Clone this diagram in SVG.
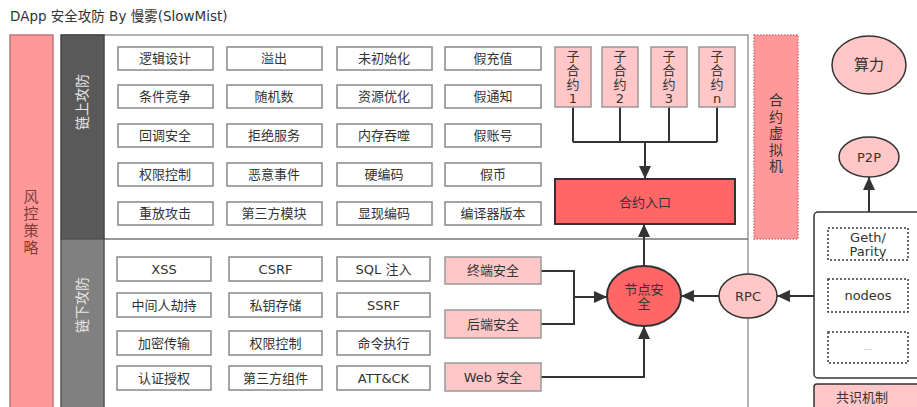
<svg xmlns="http://www.w3.org/2000/svg" width="917" height="407" viewBox="0 0 917 407">
<defs>
<marker id="ah" markerUnits="userSpaceOnUse" markerWidth="14" markerHeight="12" refX="13" refY="6" orient="auto">
<path d="M0,0 L13,6 L0,12 Z" fill="#333"/>
</marker>
<style>
text{font-family:"DejaVu Sans","Noto Sans CJK SC",sans-serif;font-size:13px;fill:#333;text-anchor:middle;dominant-baseline:central}
.b{fill:#fff;stroke:#888;stroke-width:1.5}
.p{fill:#ffc7c7;stroke:#999;stroke-width:1.5}
.e{fill:#ffc7c7;stroke:#333;stroke-width:1.5}
.d{fill:none;stroke:#333;stroke-width:1.5;stroke-dasharray:2 2}
.big{font-size:15px}
.v{font-size:14px}
</style>
</defs>
<rect width="917" height="407" fill="#fff"/>
<text x="10" y="16" style="text-anchor:start;font-size:13.5px">DApp 安全攻防 By 慢雾(SlowMist)</text>

<g id="risk">
<rect x="10" y="35" width="43" height="380" fill="#ff9999" stroke="#b87a7a" stroke-width="1.5"/>
<text class="big" x="31" y="197" style="fill:#803a3a">风</text>
<text class="big" x="31" y="214" style="fill:#803a3a">控</text>
<text class="big" x="31" y="231" style="fill:#803a3a">策</text>
<text class="big" x="31" y="248" style="fill:#803a3a">略</text>
</g>

<g id="frame">
<path d="M61 35 H748 V407" fill="none" stroke="#999" stroke-width="1.5"/>
<path d="M104 239 H748" fill="none" stroke="#777" stroke-width="1.5"/>
</g>

<g id="onchain">
<rect x="61" y="35" width="43" height="204" fill="#595959" stroke="#444" stroke-width="1.5"/>
<text class="v" transform="translate(82 102) rotate(-90)" style="fill:#e6e6e6">链上攻防</text>
</g>
<g id="offchain">
<rect x="61" y="239" width="43" height="176" fill="#808080" stroke="#555" stroke-width="1.5"/>
<text class="v" transform="translate(82 305) rotate(-90)" style="fill:#e6e6e6">链下攻防</text>
</g>

<g id="onchain-items">
<rect class="b" x="118" y="47" width="95" height="23"/><text x="165" y="58.5">逻辑设计</text>
<rect class="b" x="227" y="47" width="95" height="23"/><text x="274" y="58.5">溢出</text>
<rect class="b" x="337" y="47" width="95" height="23"/><text x="384" y="58.5">未初始化</text>
<rect class="b" x="445" y="47" width="96" height="23"/><text x="493" y="58.5">假充值</text>
<rect class="b" x="118" y="85" width="95" height="23"/><text x="165" y="96.5">条件竞争</text>
<rect class="b" x="227" y="85" width="95" height="23"/><text x="274" y="96.5">随机数</text>
<rect class="b" x="337" y="85" width="95" height="23"/><text x="384" y="96.5">资源优化</text>
<rect class="b" x="445" y="85" width="96" height="23"/><text x="493" y="96.5">假通知</text>
<rect class="b" x="118" y="124" width="95" height="23"/><text x="165" y="135.5">回调安全</text>
<rect class="b" x="227" y="124" width="95" height="23"/><text x="274" y="135.5">拒绝服务</text>
<rect class="b" x="337" y="124" width="95" height="23"/><text x="384" y="135.5">内存吞噬</text>
<rect class="b" x="445" y="124" width="96" height="23"/><text x="493" y="135.5">假账号</text>
<rect class="b" x="118" y="163" width="95" height="23"/><text x="165" y="174.5">权限控制</text>
<rect class="b" x="227" y="163" width="95" height="23"/><text x="274" y="174.5">恶意事件</text>
<rect class="b" x="337" y="163" width="95" height="23"/><text x="384" y="174.5">硬编码</text>
<rect class="b" x="445" y="163" width="96" height="23"/><text x="493" y="174.5">假币</text>
<rect class="b" x="118" y="202" width="95" height="23"/><text x="165" y="213.5">重放攻击</text>
<rect class="b" x="227" y="202" width="95" height="23"/><text x="274" y="213.5">第三方模块</text>
<rect class="b" x="337" y="202" width="95" height="23"/><text x="384" y="213.5">显现编码</text>
<rect class="b" x="445" y="202" width="96" height="23"/><text x="493" y="213.5">编译器版本</text>
</g>

<g id="offchain-items">
<rect class="b" x="117" y="257" width="94" height="24"/><text x="164" y="269">XSS</text>
<rect class="b" x="229" y="257" width="93" height="24"/><text x="275.5" y="269">CSRF</text>
<rect class="b" x="337" y="257" width="93" height="24"/><text x="383.5" y="269">SQL 注入</text>
<rect class="b" x="117" y="293" width="94" height="24"/><text x="164" y="305">中间人劫持</text>
<rect class="b" x="229" y="293" width="93" height="24"/><text x="275.5" y="305">私钥存储</text>
<rect class="b" x="337" y="293" width="93" height="24"/><text x="383.5" y="305">SSRF</text>
<rect class="b" x="117" y="331" width="94" height="24"/><text x="164" y="343">加密传输</text>
<rect class="b" x="229" y="331" width="93" height="24"/><text x="275.5" y="343">权限控制</text>
<rect class="b" x="337" y="331" width="93" height="24"/><text x="383.5" y="343">命令执行</text>
<rect class="b" x="117" y="366" width="94" height="24"/><text x="164" y="378">认证授权</text>
<rect class="b" x="229" y="366" width="93" height="24"/><text x="275.5" y="378">第三方组件</text>
<rect class="b" x="337" y="366" width="93" height="24"/><text x="383.5" y="378">ATT&amp;CK</text>
</g>

<g id="connectors" fill="none" stroke="#333" stroke-width="2">
<path d="M573 107 V142 M620 107 V142 M669 107 V142 M717 107 V142 M573 142 H717"/>
<path d="M645 142 V179" marker-end="url(#ah)"/>
<path d="M644 266 V224" marker-end="url(#ah)"/>
<path d="M541 271 H574 V324 H541"/>
<path d="M574 297 H607" marker-end="url(#ah)"/>
<path d="M541 377 H644 V326" marker-end="url(#ah)"/>
<path d="M719 296 H681" marker-end="url(#ah)"/>
<path d="M814 296 H777" marker-end="url(#ah)"/>
<path d="M869 212 V177" marker-end="url(#ah)"/>
</g>

<g id="sub1"><rect class="p" x="555" y="47" width="36" height="60"/><text x="573" y="56">子</text><text x="573" y="70">合</text><text x="573" y="84">约</text><text x="573" y="98">1</text></g>
<g id="sub2"><rect class="p" x="602" y="47" width="36" height="60"/><text x="620" y="56">子</text><text x="620" y="70">合</text><text x="620" y="84">约</text><text x="620" y="98">2</text></g>
<g id="sub3"><rect class="p" x="651" y="47" width="36" height="60"/><text x="669" y="56">子</text><text x="669" y="70">合</text><text x="669" y="84">约</text><text x="669" y="98">3</text></g>
<g id="subn"><rect class="p" x="699" y="47" width="36" height="60"/><text x="717" y="56">子</text><text x="717" y="70">合</text><text x="717" y="84">约</text><text x="717" y="98">n</text></g>

<g id="entry"><rect x="555" y="179" width="180" height="45" fill="#ff6666" stroke="#333" stroke-width="2"/><text x="645" y="202">合约入口</text></g>

<g id="vm">
<rect x="754" y="35" width="44" height="204" fill="#ff9999" stroke="#d07070" stroke-width="1.5" stroke-dasharray="1.5 1.5"/>
<text class="v" x="776" y="100">合</text>
<text class="v" x="776" y="116.5">约</text>
<text class="v" x="776" y="133">虚</text>
<text class="v" x="776" y="149.5">拟</text>
<text class="v" x="776" y="166">机</text>
</g>

<g id="terminal"><rect class="p" x="445" y="257" width="96" height="27"/><text x="493" y="270.5">终端安全</text></g>
<g id="backend"><rect class="p" x="445" y="310" width="96" height="28"/><text x="493" y="324">后端安全</text></g>
<g id="web"><rect class="p" x="445" y="363" width="96" height="28"/><text x="493" y="377">Web 安全</text></g>

<g id="node"><ellipse cx="644" cy="296" rx="37" ry="30" fill="#ff6666" stroke="#333" stroke-width="2"/><text x="644" y="289">节点安</text><text x="644" y="303">全</text></g>
<g id="rpc"><ellipse cx="748" cy="296" rx="29" ry="22" class="e"/><text x="748" y="296">RPC</text></g>

<g id="hash"><ellipse cx="869" cy="65" rx="37" ry="29" class="e"/><text class="big" x="869" y="65">算力</text></g>
<g id="p2p"><ellipse cx="869" cy="157" rx="30" ry="20" class="e"/><text x="869" y="157">P2P</text></g>

<g id="clients">
<rect x="814" y="212" width="120" height="166" rx="4" fill="#fff" stroke="#333" stroke-width="1.5"/>
<rect class="d" x="828" y="228" width="80" height="32"/><text x="868" y="237">Geth/</text><text x="868" y="251">Parity</text>
<rect class="d" x="828" y="279" width="80" height="33"/><text x="868" y="295.5">nodeos</text>
<rect class="d" x="828" y="332" width="80" height="31"/><text x="868" y="347" style="font-size:9px;fill:#999">...</text>
</g>
<g id="consensus"><rect x="814" y="384" width="120" height="30" rx="3" fill="#ffc7c7" stroke="#333" stroke-width="1.5"/><text x="862" y="397">共识机制</text></g>
</svg>
